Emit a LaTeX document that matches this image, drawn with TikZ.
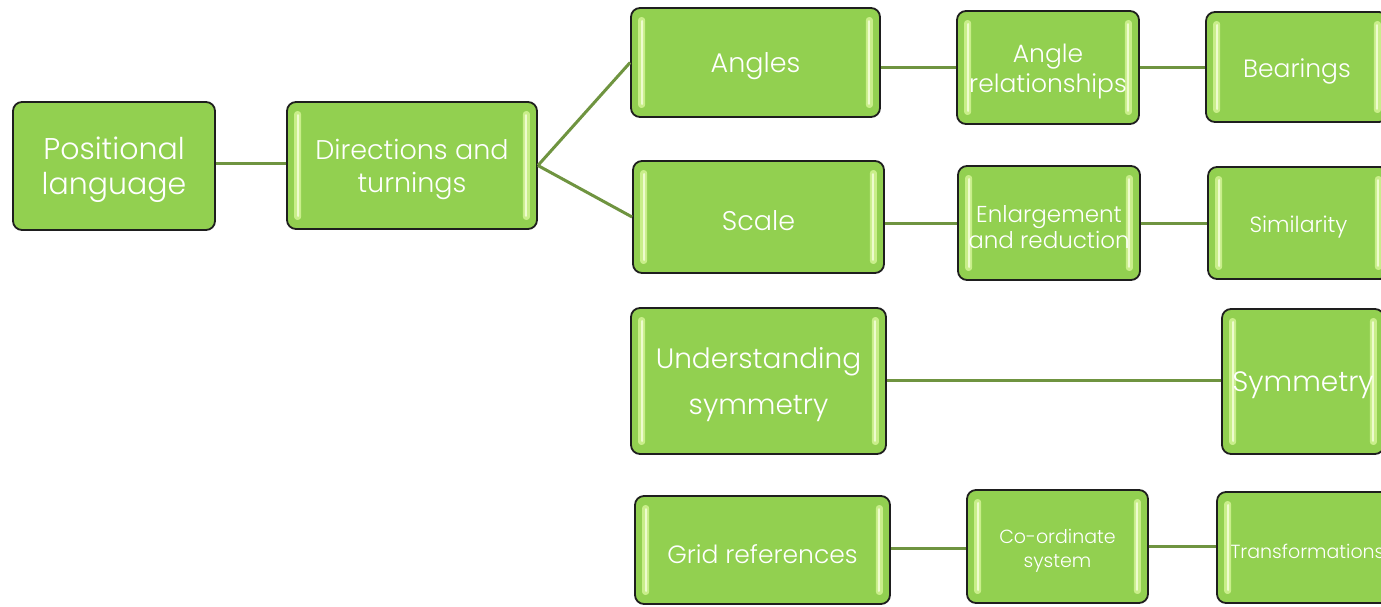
\documentclass[tikz,border=0pt]{standalone}
\usepackage{fontspec}
\IfFontExistsTF{Poppins Light}{\setmainfont{Poppins Light}}{\setmainfont{Poppins}}
\usetikzlibrary{calc}
\definecolor{boxgreen}{HTML}{92D050}
\definecolor{linkgreen}{HTML}{6F9440}
\definecolor{barglow}{HTML}{C9EE8A}
\definecolor{barcore}{HTML}{EEFBCF}
\definecolor{edgedark}{HTML}{1E1E1E}
\tikzset{
  gbox/.style={draw=edgedark, line width=1.8pt, fill=boxgreen, rounded corners=9pt,
    inner sep=0pt},
  gtext/.style={text=white, align=center, inner sep=0pt},
  link/.style={draw=linkgreen, line width=3pt},
}
% light vertical glow strips inside a box
\newcommand\glowbars[1]{%
  \fill[barglow, rounded corners=3pt] ($(#1.north west)+(8,10)$) rectangle ($(#1.south west)+(15,-10)$);
  \fill[barcore, rounded corners=1pt] ($(#1.north west)+(11,13)$) rectangle ($(#1.south west)+(13,-13)$);
  \fill[barglow, rounded corners=3pt] ($(#1.north east)+(-15,10)$) rectangle ($(#1.south east)+(-8,-10)$);
  \fill[barcore, rounded corners=1pt] ($(#1.north east)+(-13,13)$) rectangle ($(#1.south east)+(-11,-13)$);
}
% \mkbox{name}{x1}{y1}{x2}{y2}{font size}{line skip}{text}: plain box
\newcommand\mkplain[8]{%
  \node[gbox, minimum width={#4pt-#2pt}, minimum height={#5pt-#3pt}]
    (#1) at ({(#2+#4)/2},{(#3+#5)/2}) {};
  \node[gtext, font=\fontsize{#6}{#7}\selectfont] (#1-t) at ($(#1.center)+(0,4)$) {#8};
}
% same box with glow strips under the label
\newcommand\mkbox[8]{%
  \node[gbox, minimum width={#4pt-#2pt}, minimum height={#5pt-#3pt}]
    (#1) at ({(#2+#4)/2},{(#3+#5)/2}) {};
  \glowbars{#1}
  \node[gtext, font=\fontsize{#6}{#7}\selectfont] (#1-t) at ($(#1.center)+(0,4)$) {#8};
}
\begin{document}
\begin{tikzpicture}[x=1pt,y=-1pt]
\useasboundingbox (0,0) rectangle (1381,606);
\clip (0,0) rectangle (1381,606);

\mkplain{pl}{13}{102}{215}{230}{30}{35}{Positional\\language}
\mkbox{dt}{287}{102}{537}{229}{27}{33}{Directions and\\turnings}
\mkbox{an}{631}{8}{880}{117}{27}{32}{Angles}
\mkbox{ar}{957}{11}{1139}{124}{25}{30}{Angle\\relationships}
\mkbox{be}{1206}{12}{1388}{122}{25}{30}{Bearings}
\mkbox{sc}{633}{161}{884}{273}{27}{32}{Scale}
\mkbox{er}{958}{166}{1140}{280}{23}{26}{Enlargement\\and reduction}
\mkbox{si}{1208}{167}{1389}{279}{22}{26}{Similarity}
\mkbox{us}{631}{308}{886}{454}{28}{46}{Understanding\\symmetry}
\mkbox{sy}{1222}{309}{1384}{454}{28}{32}{Symmetry}
\mkbox{gr}{635}{496}{890}{604}{25}{30}{Grid references}
\mkbox{co}{967}{490}{1148}{603}{19}{24}{Co-ordinate\\system}
\mkbox{tr}{1217}{492}{1398}{603}{19}{24}{Transformations}

% connectors
\draw[link] (pl.east |- 0,163) -- (dt.west |- 0,163);
\draw[link] (dt.east) -- (an.west);
\draw[link] (dt.east) -- (sc.west);
\draw[link] (an.east |- 0,67) -- (ar.west |- 0,67);
\draw[link] (ar.east |- 0,67) -- (be.west |- 0,67);
\draw[link] (sc.east |- 0,223) -- (er.west |- 0,223);
\draw[link] (er.east |- 0,223) -- (si.west |- 0,223);
\draw[link] (us.east |- 0,380) -- (sy.west |- 0,380);
\draw[link] (gr.east |- 0,548) -- (co.west |- 0,548);
\draw[link] (co.east |- 0,546) -- (tr.west |- 0,546);
\end{tikzpicture}
\end{document}
